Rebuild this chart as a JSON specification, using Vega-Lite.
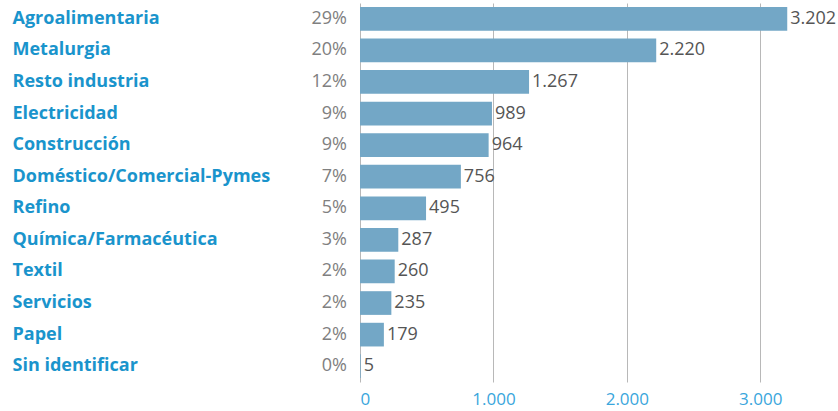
{
  "$schema": "https://vega.github.io/schema/vega-lite/v6.json",
  "autosize": {"type": "none"},
  "padding": {"left": 360, "top": 3, "right": 11, "bottom": 29},
  "width": 467,
  "height": 379,
  "background": "white",
  "config": {
    "view": {"stroke": null},
    "font": "Open Sans",
    "locale": {"number": {"decimal": ",", "thousands": ".", "grouping": [3], "currency": ["", " €"]}}
  },
  "data": {
    "values": [
      {"sector": "Agroalimentaria", "value": 3202, "pct": 0.29},
      {"sector": "Metalurgia", "value": 2220, "pct": 0.20},
      {"sector": "Resto industria", "value": 1267, "pct": 0.12},
      {"sector": "Electricidad", "value": 989, "pct": 0.09},
      {"sector": "Construcción", "value": 964, "pct": 0.09},
      {"sector": "Doméstico/Comercial-Pymes", "value": 756, "pct": 0.07},
      {"sector": "Refino", "value": 495, "pct": 0.05},
      {"sector": "Química/Farmacéutica", "value": 287, "pct": 0.03},
      {"sector": "Textil", "value": 260, "pct": 0.02},
      {"sector": "Servicios", "value": 235, "pct": 0.02},
      {"sector": "Papel", "value": 179, "pct": 0.02},
      {"sector": "Sin identificar", "value": 5, "pct": 0.0}
    ]
  },
  "encoding": {
    "y": {
      "field": "sector",
      "type": "nominal",
      "sort": null,
      "scale": {"paddingInner": 0.25, "paddingOuter": 0.125},
      "axis": {
        "title": null,
        "ticks": false,
        "domain": false,
        "grid": false,
        "labelAlign": "left",
        "labelPadding": 348,
        "labelFont": "Open Sans",
        "labelFontSize": 18,
        "labelFontWeight": "bold",
        "labelColor": "#1a94cc",
        "labelLimit": 400
      }
    }
  },
  "layer": [
    {
      "mark": {"type": "bar", "color": "#73a7c6"},
      "encoding": {
        "x": {
          "field": "value",
          "type": "quantitative",
          "scale": {"domain": [0, 3500], "nice": false},
          "axis": {
            "title": null,
            "values": [0, 1000, 2000, 3000],
            "format": ",d",
            "ticks": false,
            "domain": false,
            "grid": true,
            "gridColor": "#b8b8b8",
            "gridWidth": 1,
            "labelPadding": 9,
            "labelFont": "Open Sans",
            "labelFontSize": 17,
            "labelColor": "#3aa6dc"
          }
        }
      }
    },
    {
      "mark": {"type": "text", "align": "left", "baseline": "middle", "dx": 3, "fontSize": 18, "color": "#555555", "font": "Open Sans"},
      "encoding": {
        "x": {"field": "value", "type": "quantitative"},
        "text": {"field": "value", "type": "quantitative", "format": ",d"}
      }
    },
    {
      "mark": {"type": "text", "align": "right", "baseline": "middle", "dx": -13, "fontSize": 18, "color": "#808080", "font": "Open Sans"},
      "encoding": {
        "x": {"datum": 0, "type": "quantitative"},
        "text": {"field": "pct", "type": "quantitative", "format": ".0%"}
      }
    }
  ]
}
